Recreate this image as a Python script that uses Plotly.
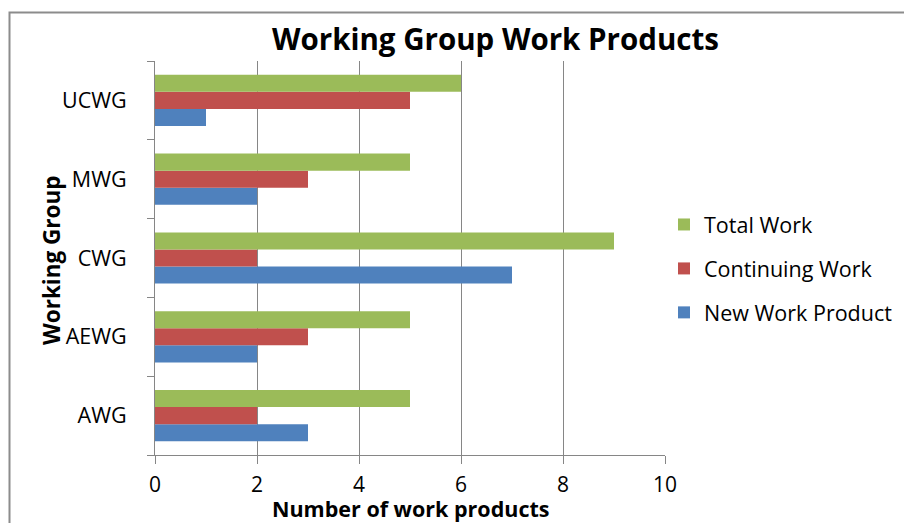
import plotly.graph_objects as go

categories = ["AWG", "AEWG", "CWG", "MWG", "UCWG"]
new_work = [3, 2, 7, 2, 1]
continuing_work = [2, 3, 2, 3, 5]
total_work = [5, 5, 9, 5, 6]
x_ticks = [0, 2, 4, 6, 8, 10]

FONT = "Open Sans"
GREY = "#868686"

# plot area in pixels
L, R, T, B = 155, 665, 61, 455
W, H = 904, 523

def px(x):
    return (x - L) / (R - L)

def py(y):
    return (B - y) / (B - T)

fig = go.Figure()
series = [
    ("New Work Product", new_work, "#4F81BD", 3),
    ("Continuing Work", continuing_work, "#C0504D", 2),
    ("Total Work", total_work, "#9BBB59", 1),
]
for name, vals, col, rank in series:
    fig.add_trace(go.Bar(
        y=categories, x=vals, name=name, orientation="h",
        marker=dict(color=col, line=dict(width=0)),
        legendgroup=name, legendrank=rank,
    ))

fig.update_layout(
    width=W, height=H,
    margin=dict(l=L, r=W - R, t=T, b=H - B, pad=0, autoexpand=False),
    paper_bgcolor="white", plot_bgcolor="white",
    barmode="group", bargap=0.35, bargroupgap=0,
    font=dict(family=FONT, size=21, color="black"),
    showlegend=True,
    legend=dict(
        traceorder="grouped", tracegroupgap=13,
        x=px(664), xanchor="left", y=py(204), yanchor="top",
        font=dict(size=21.5), itemsizing="constant",
        bgcolor="rgba(0,0,0,0)",
    ),
    xaxis=dict(
        range=[0, 10], tickvals=x_ticks, showgrid=True, gridcolor=GREY, gridwidth=1,
        showline=True, linecolor=GREY, linewidth=1,
        ticks="outside", ticklen=8, tickcolor=GREY, tickwidth=1,
        ticklabelstandoff=3, zeroline=False,
        tickfont=dict(size=21),
    ),
    yaxis=dict(
        showline=True, linecolor=GREY, linewidth=1,
        ticks="outside", ticklen=7, tickcolor=GREY, tickwidth=1,
        tickson="boundaries", ticklabelstandoff=23,
        showgrid=False, tickfont=dict(size=21.5),
    ),
    annotations=[
        dict(text="<b>Working Group Work Products</b>", xref="paper", yref="paper",
             x=px(495), y=py(38), xanchor="center", yanchor="middle",
             showarrow=False, font=dict(size=29.5)),
        dict(text="<b>Number of work products</b>", xref="paper", yref="paper",
             x=px(410), y=py(508.5), xanchor="center", yanchor="middle",
             showarrow=False, font=dict(size=21.5)),
        dict(text="<b>Working Group</b>", xref="paper", yref="paper",
             x=px(51), y=py(260), xanchor="center", yanchor="middle",
             textangle=-90, showarrow=False, font=dict(size=22.5)),
    ],
    shapes=[
        dict(type="rect", xref="paper", yref="paper",
             x0=px(9.5), x1=px(960), y0=py(12.5), y1=py(600),
             line=dict(color="#8C8C8C", width=2), fillcolor="rgba(0,0,0,0)",
             layer="below"),
    ],
)

fig.write_html("out.html")
